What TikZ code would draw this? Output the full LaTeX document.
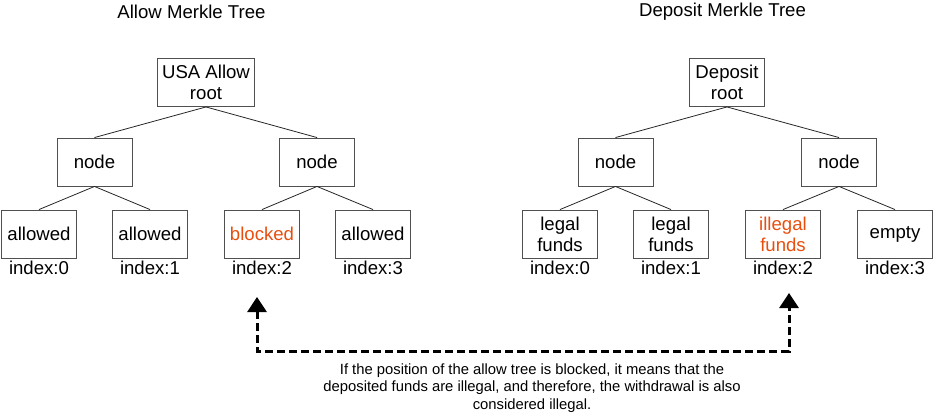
\documentclass[tikz,border=0pt]{standalone}
\usepackage{fontspec}
\setmainfont{Liberation Sans}
\usetikzlibrary{arrows.meta}
\definecolor{blockred}{RGB}{232,78,14}
\definecolor{boxgray}{RGB}{80,80,80}
\tikzset{
  treebox/.style={draw=boxgray, line width=0.9pt, minimum width=75pt, minimum height=48pt,
    inner xsep=4.5pt, align=center, font=\fontsize{18.6}{21}\selectfont},
  branch/.style={draw=black!85, line width=0.8pt},
  caption/.style={font=\fontsize{18.6}{21}\selectfont},
  linkarrow/.style={line width=3pt, dash pattern=on 8pt off 4pt,
    {Triangle[width=19pt,length=15pt]}-{Triangle[width=19pt,length=15pt]}},
}

\begin{document}
\begin{tikzpicture}[x=1pt, y=-1pt]
\useasboundingbox (0,0) rectangle (933,417);

% allow tree
\node[caption] (allowtitle) at (191.5,12) {Allow Merkle Tree};
\node[treebox] (allowroot) at (206,82.5) {USA Allow\\root};
\node[treebox] (allownode0) at (94.5,162) {node};
\node[treebox] (allownode1) at (317,162) {node};
\foreach \x/\lab/\tc [count=\i from 0] in {39/allowed/black, 150/allowed/black,
    262/blocked/blockred, 373/allowed/black} {
  \node[treebox, text=\tc] (allowleaf\i) at (\x,234) {\lab};
  \node[caption] (allowindex\i) at (\x,268) {index:\i};
}
\foreach \i in {0,1}
  \draw[branch] (allowroot.south) -- (allownode\i.north);
\foreach \i/\p in {0/0, 1/0, 2/1, 3/1}
  \draw[branch] (allownode\p.south) -- (allowleaf\i.north);

% deposit tree
\node[caption] (deposittitle) at (722.5,12) {Deposit Merkle Tree};
\node[treebox] (depositroot) at (727,82.5) {Deposit\\root};
\node[treebox] (depositnode0) at (615.5,162) {node};
\node[treebox] (depositnode1) at (839,162) {node};
\foreach \x/\lab/\tc [count=\i from 0] in {560/legal\\funds/black, 671/legal\\funds/black,
    783/illegal\\funds/blockred, 895/empty/black} {
  \node[treebox, text=\tc] (depositleaf\i) at (\x,234) {\lab};
  \node[caption] (depositindex\i) at (\x,268) {index:\i};
}
\foreach \i in {0,1}
  \draw[branch] (depositroot.south) -- (depositnode\i.north);
\foreach \i/\p in {0/0, 1/0, 2/1, 3/1}
  \draw[branch] (depositnode\p.south) -- (depositleaf\i.north);

% link between the two index:2 leaves
\coordinate (allowtip) at (257,297);
\coordinate (deposittip) at (789,293);
\draw[linkarrow] (allowtip) -- ++(0,54) -| (deposittip);
\node[font=\fontsize{14.8}{17.5}\selectfont, align=center] (note) at (532,388)
  {If the position of the allow tree is blocked, it means that the\\
   deposited funds are illegal, and therefore, the withdrawal is also\\
   considered illegal.};
\end{tikzpicture}
\end{document}
